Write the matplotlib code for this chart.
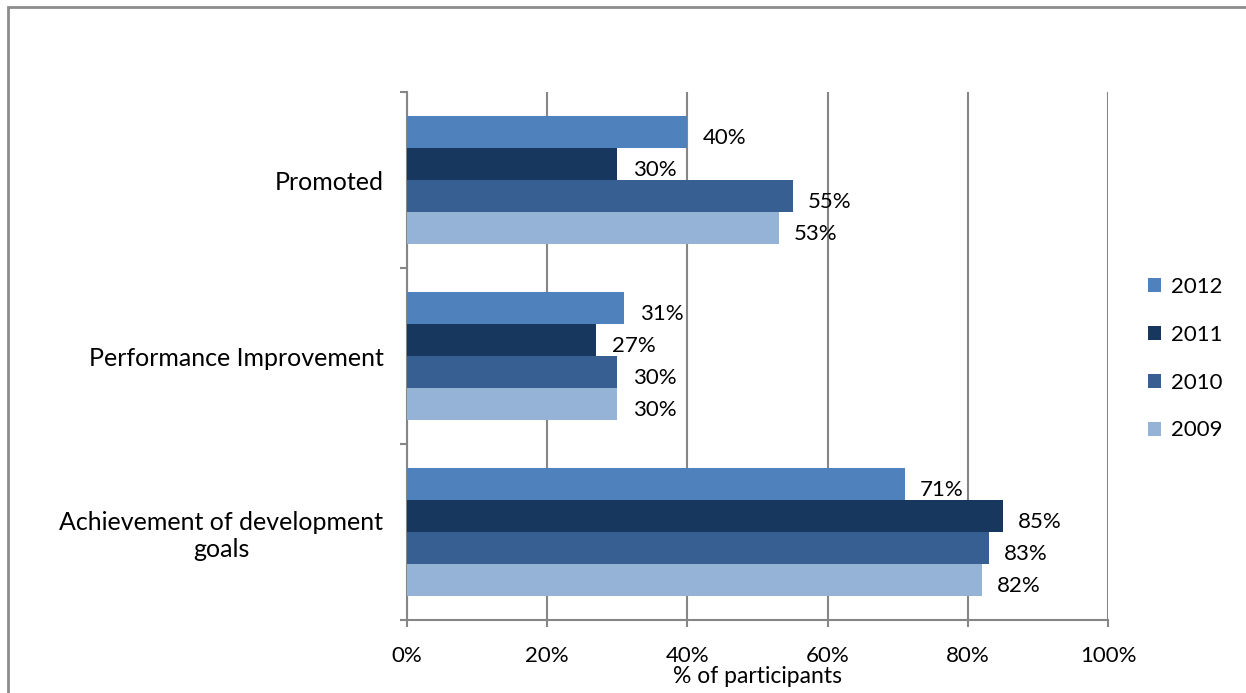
import matplotlib.pyplot as plt
from matplotlib.patches import Rectangle
import numpy as np

plt.rcParams['font.family'] = ['Lato', 'DejaVu Sans']

categories = ["Achievement of development\ngoals", "Performance Improvement", "Promoted"]
years = ["2012", "2011", "2010", "2009"]
values = {
    "2012": [71, 31, 40],
    "2011": [85, 27, 30],
    "2010": [83, 30, 55],
    "2009": [82, 30, 53],
}
colors = {
    "2012": "#4F81BD",
    "2011": "#17375E",
    "2010": "#375F92",
    "2009": "#95B3D7",
}

grey = "#868686"
num_fs = 16
txt_fs = 18

fig = plt.figure(figsize=(12.46, 6.93), dpi=100)
ax = fig.add_axes([407 / 1246, 1 - 620 / 693, 701 / 1246, 528 / 693])

y = np.arange(len(categories))
h = 32 / 176
for i, yr in enumerate(years):
    pos = y + (1.5 - i) * h
    bars = ax.barh(pos, values[yr], height=h, color=colors[yr], label=yr, zorder=3)
    for b, v in zip(bars, values[yr]):
        ax.annotate(f"{v}%", (b.get_width(), b.get_y() + b.get_height() / 2),
                    xytext=(11, -4), textcoords="offset points",
                    ha="left", va="center", fontsize=num_fs, zorder=4)

ax.set_xlim(0, 100)
ax.set_ylim(-0.5, 2.5)
ax.set_xticks(np.arange(0, 101, 20))
ax.set_xticklabels([f"{t}%" for t in range(0, 101, 20)], fontsize=num_fs)
ax.set_yticks(y)
ax.set_yticklabels(categories, fontsize=txt_fs)
for lab in ax.get_yticklabels():
    lab.set_multialignment("center")
ax.set_yticks([-0.5, 0.5, 1.5, 2.5], minor=True)
ax.tick_params(axis="y", which="major", length=0, pad=17)
ax.tick_params(axis="y", which="minor", length=5, width=1.5, color=grey, direction="out")
ax.tick_params(axis="x", length=5, width=1.5, color=grey, direction="out", pad=14)

ax.grid(axis="x", color=grey, linewidth=1.5, zorder=0)
for s in ["top", "right"]:
    ax.spines[s].set_visible(False)
for s in ["left", "bottom"]:
    ax.spines[s].set_color(grey)
    ax.spines[s].set_linewidth(1.5)

# keep the axis title just inside the image
ax.set_xlabel("% of participants", fontsize=16.5, labelpad=0)

leg = fig.legend(loc="upper left", bbox_to_anchor=(1137 / 1246, 1 - 266 / 693),
                 frameon=False, fontsize=num_fs, handlelength=0.6, handleheight=0.6,
                 handletextpad=0.45, labelspacing=1.25, borderpad=0)

# outer chart border (cropped at right and bottom)
fig.patches.append(Rectangle((8 / 1246, -0.1), 1.2, 1 - 7 / 693 + 0.1,
                             transform=fig.transFigure, fill=False,
                             edgecolor="#8c8c8c", linewidth=2))

fig.savefig("out.png", dpi=100)
